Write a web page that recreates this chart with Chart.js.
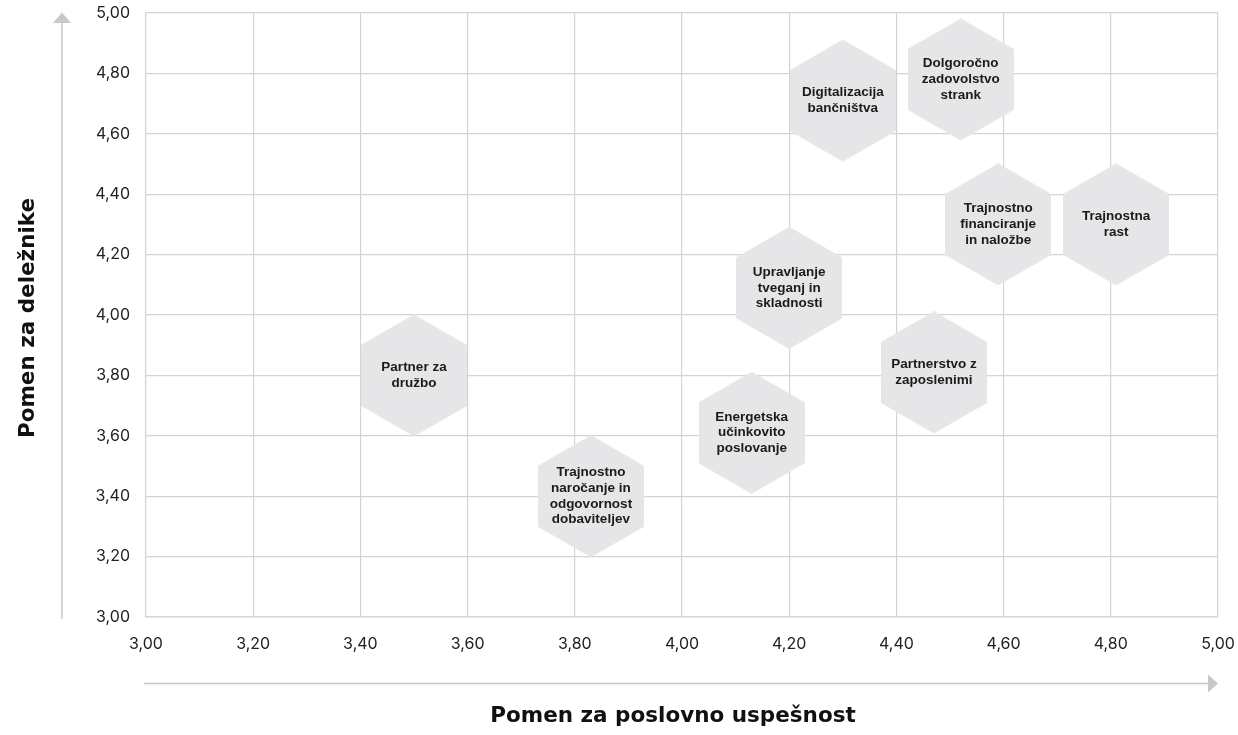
<!DOCTYPE html>
<html>
<head>
<meta charset="utf-8">
<script src="https://cdn.jsdelivr.net/npm/chart.js@4"></script>
<style>
  html, body { margin: 0; padding: 0; background: #fff; }
  #wrap { width: 1238px; height: 735px; position: relative; }
</style>
</head>
<body>
<div id="wrap"><canvas id="matrix"></canvas></div>
<script>
// Materiality matrix
const topics = [
    ['Digitalizacija', 'bančništva'],
    ['Dolgoročno', 'zadovolstvo', 'strank'],
    ['Trajnostno', 'financiranje', 'in naložbe'],
    ['Trajnostna', 'rast'],
    ['Upravljanje', 'tveganj in', 'skladnosti'],
    ['Partner za', 'družbo'],
    ['Partnerstvo z', 'zaposlenimi'],
    ['Energetska', 'učinkovito', 'poslovanje'],
    ['Trajnostno', 'naročanje in', 'odgovornost', 'dobaviteljev']
];
const businessImportance = [4.30, 4.52, 4.59, 4.81, 4.20, 3.50, 4.47, 4.13, 3.83];
const stakeholderImportance = [4.71, 4.78, 4.30, 4.30, 4.09, 3.80, 3.81, 3.61, 3.40];

const axisMin = 3.0;
const axisMax = 5.0;
const axisStep = 0.2;

const xTitle = 'Pomen za poslovno uspešnost';
const yTitle = 'Pomen za deležnike';

// hexagon marker (pointy top)
function makeHexagon(w, h, color) {
    const c = document.createElement('canvas');
    c.width = w; c.height = h;
    const g = c.getContext('2d');
    g.fillStyle = color;
    g.beginPath();
    g.moveTo(w / 2, 0);
    g.lineTo(w, h / 4);
    g.lineTo(w, h * 3 / 4);
    g.lineTo(w / 2, h);
    g.lineTo(0, h * 3 / 4);
    g.lineTo(0, h / 4);
    g.closePath();
    g.fill();
    return c;
}
const hex = makeHexagon(106, 122, '#e6e6e8');

const gridColor = '#d4d4d4';
const arrowColor = '#c8c8c8';

const hexLabels = {
    id: 'hexLabels',
    afterDatasetsDraw(chart) {
        const ctx = chart.ctx;
        const meta = chart.getDatasetMeta(0);
        ctx.save();
        ctx.font = 'bold 13.5px "Liberation Sans", Arial, sans-serif';
        ctx.fillStyle = '#1b1b1b';
        ctx.textAlign = 'center';
        ctx.textBaseline = 'middle';
        const lh = 15.7;
        meta.data.forEach((pt, i) => {
            const lines = topics[i];
            const y0 = pt.y - (lines.length - 1) * lh / 2;
            lines.forEach((ln, j) => ctx.fillText(ln, pt.x, y0 + j * lh));
        });
        ctx.restore();
    }
};

const axisArrows = {
    id: 'axisArrows',
    afterDraw(chart) {
        const ctx = chart.ctx;
        const a = chart.chartArea;
        ctx.save();
        ctx.strokeStyle = arrowColor;
        ctx.fillStyle = arrowColor;
        ctx.lineWidth = 1.5;
        // vertical arrow
        const ax = 62;
        ctx.beginPath();
        ctx.moveTo(ax, a.bottom + 2);
        ctx.lineTo(ax, a.top + 8);
        ctx.stroke();
        ctx.beginPath();
        ctx.moveTo(ax, a.top - 0.5);
        ctx.lineTo(ax + 9, a.top + 10);
        ctx.lineTo(ax - 9, a.top + 10);
        ctx.closePath();
        ctx.fill();
        // horizontal arrow
        const ay = 683.5;
        ctx.beginPath();
        ctx.moveTo(a.left - 2, ay);
        ctx.lineTo(a.right - 8, ay);
        ctx.stroke();
        ctx.beginPath();
        ctx.moveTo(a.right, ay);
        ctx.lineTo(a.right - 10, ay - 9);
        ctx.lineTo(a.right - 10, ay + 9);
        ctx.closePath();
        ctx.fill();
        // titles
        ctx.fillStyle = '#111';
        ctx.font = 'bold 21.5px "DejaVu Sans", sans-serif';
        ctx.textAlign = 'center';
        ctx.textBaseline = 'middle';
        ctx.fillText(xTitle, 673, 716);
        ctx.translate(28, 318);
        ctx.rotate(-Math.PI / 2);
        ctx.fillText(yTitle, 0, 0);
        ctx.restore();
    }
};

function fmt(v) {
    return v.toFixed(2).replace('.', ',');
}

Chart.defaults.font.family = 'Inter, "Noto Sans", sans-serif';
Chart.defaults.color = '#222';

new Chart(document.getElementById('matrix'), {
    type: 'scatter',
    data: {
        datasets: [{
            data: businessImportance.map((x, i) => ({ x: x, y: stakeholderImportance[i] })),
            pointStyle: hex,
            pointRadius: 53,
            pointHoverRadius: 53,
            clip: false
        }]
    },
    options: {
        responsive: true,
        maintainAspectRatio: false,
        animation: false,
        events: [],
        layout: { autoPadding: false, padding: { top: 13, right: 20, left: 0, bottom: 0 } },
        plugins: {
            legend: { display: false },
            tooltip: { enabled: false }
        },
        scales: {
            x: {
                type: 'linear',
                min: axisMin,
                max: axisMax,
                afterFit(scale) {
                    scale.height = 118;
                    scale.paddingLeft = 0;
                    scale.paddingRight = 0;
                },
                grid: { color: gridColor, lineWidth: 1.2, drawTicks: false },
                border: { color: gridColor, width: 1.2 },
                ticks: {
                    stepSize: axisStep,
                    padding: 18,
                    font: { size: 16 },
                    color: '#222',
                    callback: v => fmt(v)
                }
            },
            y: {
                type: 'linear',
                min: axisMin,
                max: axisMax,
                afterFit(scale) {
                    scale.width = 146;
                    scale.paddingTop = 0;
                    scale.paddingBottom = 0;
                },
                grid: { color: gridColor, lineWidth: 1.2, drawTicks: false },
                border: { color: gridColor, width: 1.2 },
                ticks: {
                    stepSize: axisStep,
                    padding: 16,
                    font: { size: 16 },
                    color: '#222',
                    callback: v => fmt(v)
                }
            }
        }
    },
    plugins: [hexLabels, axisArrows]
});
</script>
</body>
</html>
